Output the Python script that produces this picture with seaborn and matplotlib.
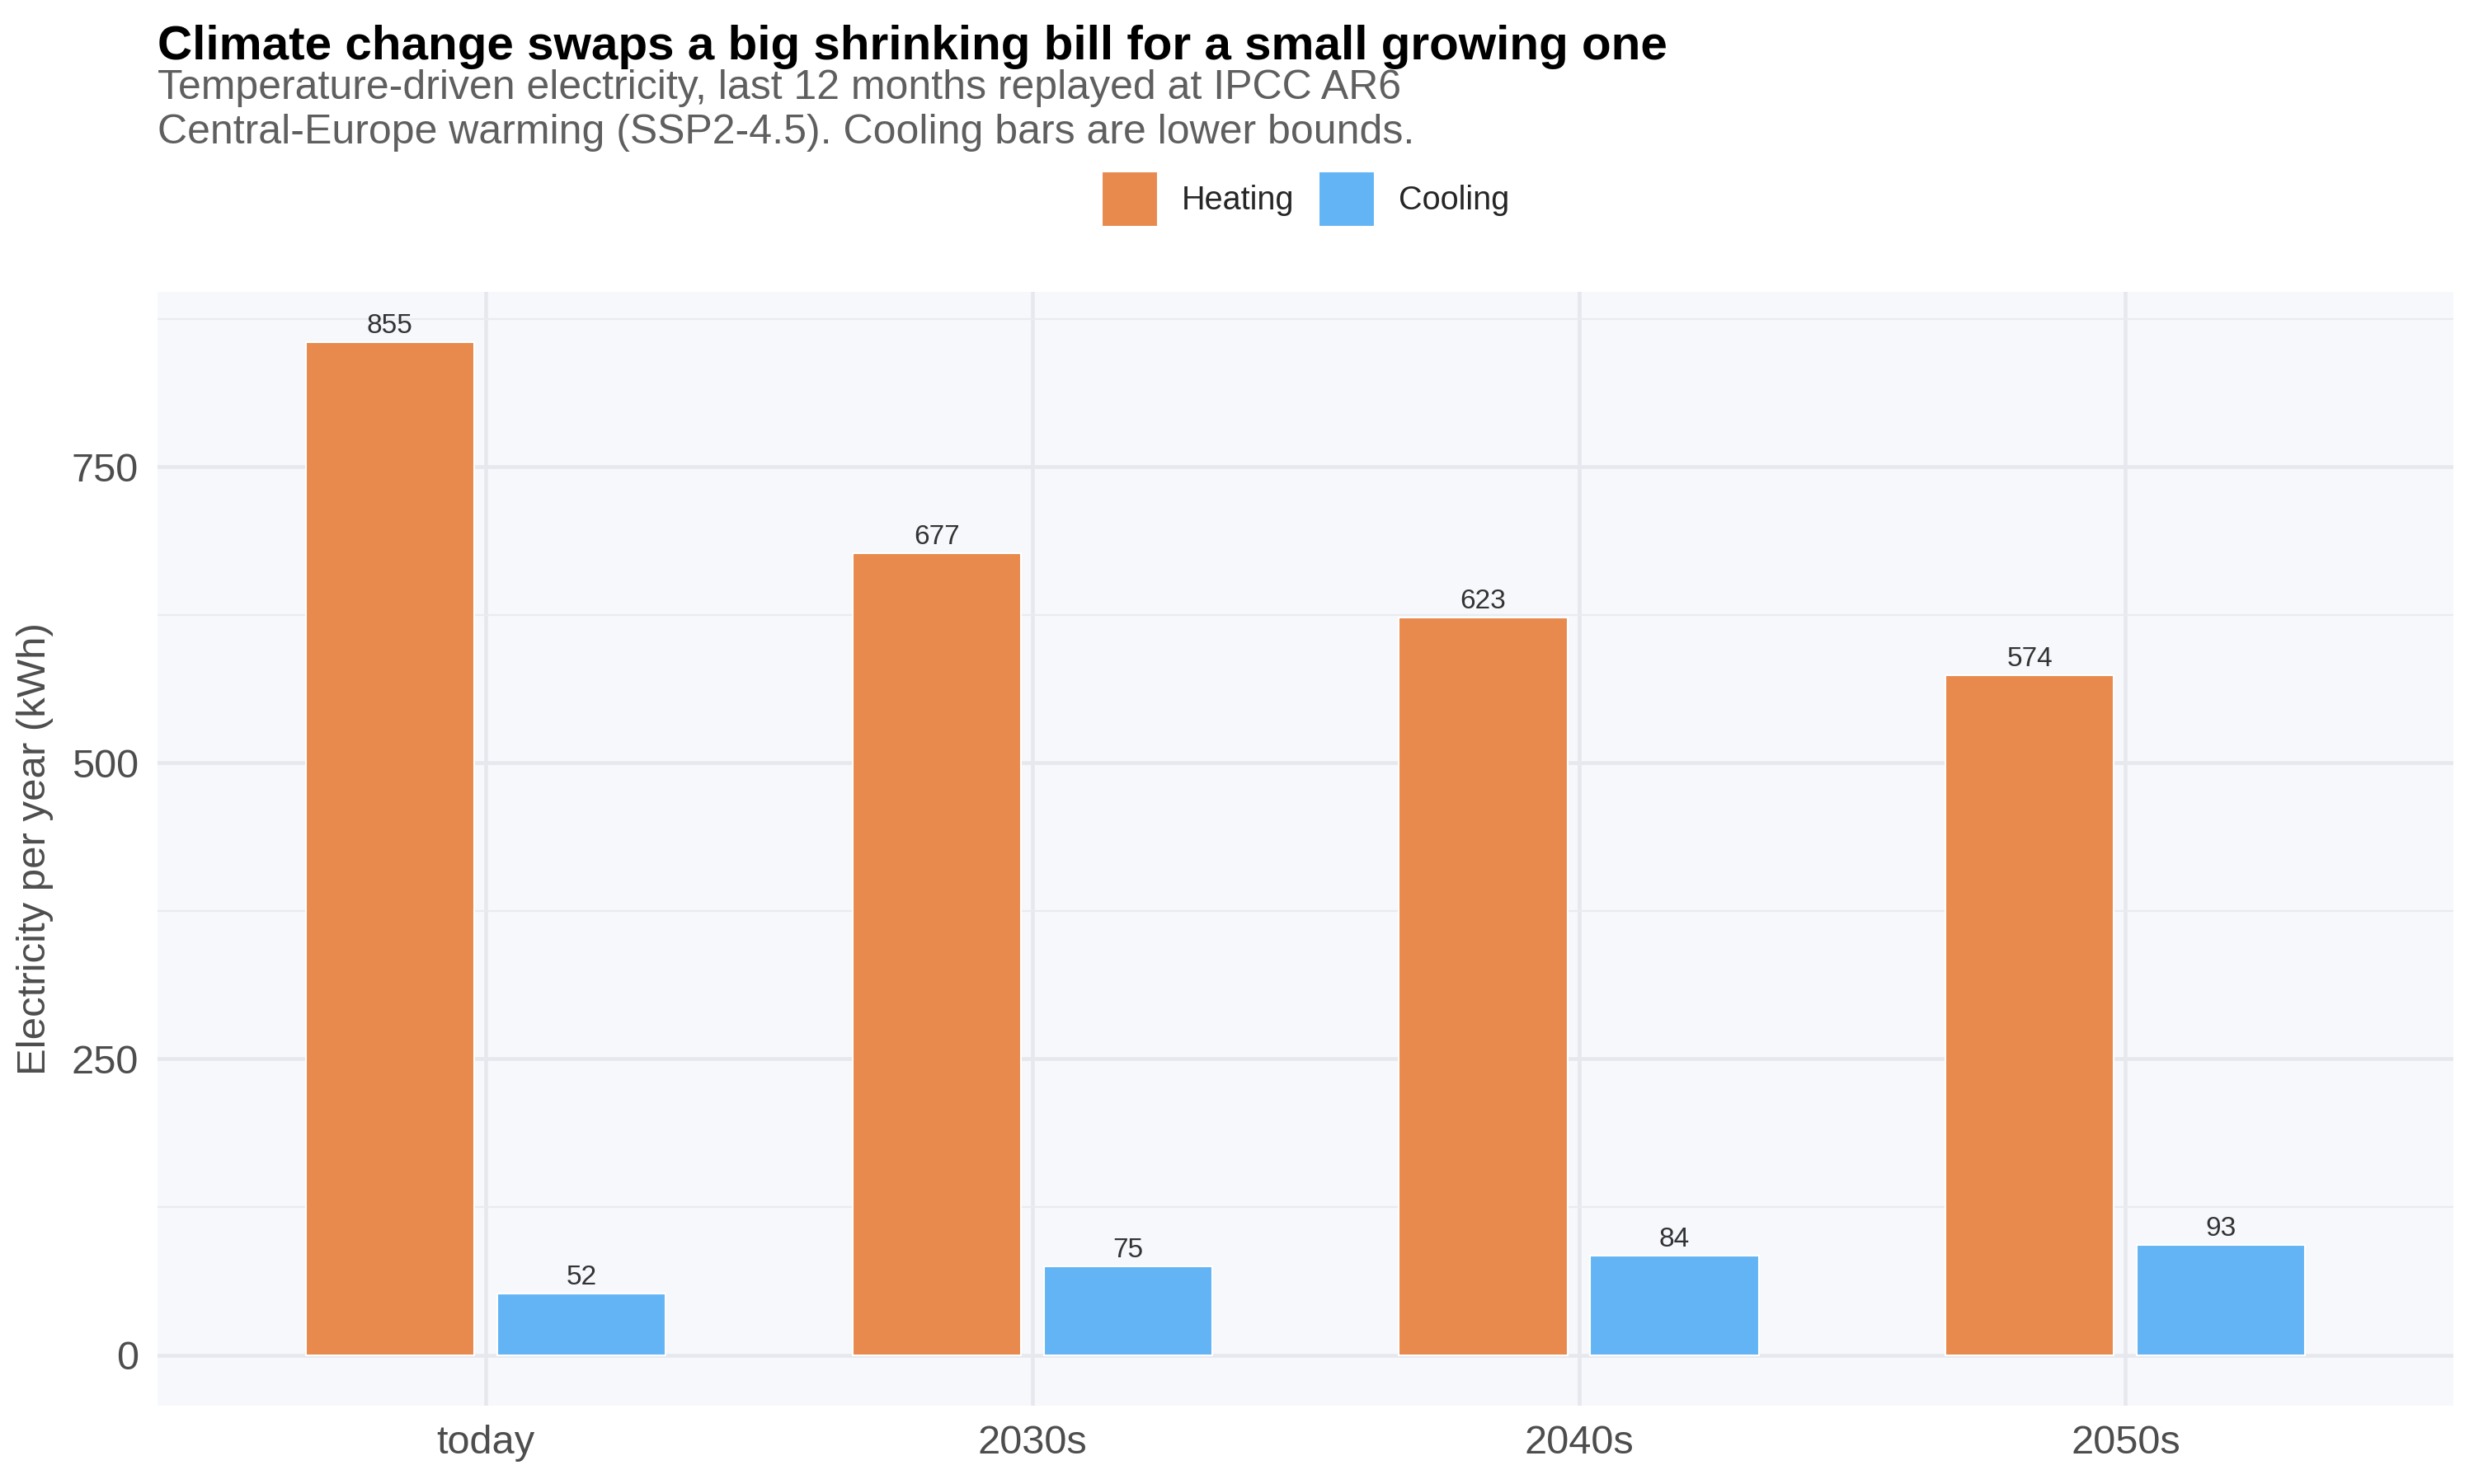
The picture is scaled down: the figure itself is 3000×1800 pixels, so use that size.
import pandas as pd
import numpy as np
import matplotlib
matplotlib.use('Agg')
import matplotlib.pyplot as plt
from matplotlib.ticker import MultipleLocator
import seaborn as sns

# values
periods = ['today', '2030s', '2040s', '2050s']
heating = [855, 677, 623, 574]
cooling = [52, 75, 84, 93]
kinds = ['Heating', 'Cooling']
colors = {'Heating': '#E8894D', 'Cooling': '#63B4F5'}

df = pd.DataFrame({
    'period': periods * 2,
    'kind': ['Heating'] * len(periods) + ['Cooling'] * len(periods),
    'kwh': heating + cooling,
})

sns.set_theme(style='white')
plt.rcParams['font.family'] = ['Liberation Sans', 'DejaVu Sans']

fig = plt.figure(figsize=(10, 6), dpi=300)
ax = fig.add_axes([0.0637, 0.0528, 0.928, 0.7505])
ax.set_facecolor('#F7F8FC')

sns.barplot(data=df, x='period', y='kwh', hue='kind', hue_order=kinds,
            order=periods, palette=colors, saturation=1, width=0.7, gap=0.12,
            edgecolor='white', linewidth=0.5, ax=ax, zorder=3)

# value labels on top of the bars
for cont in ax.containers:
    ax.bar_label(cont, fmt='%d', padding=1, fontsize=8, color='#333333')

ax.set_xlim(-0.6, len(periods) - 0.4)
ax.set_ylim(-42.75, 897.75)
ax.yaxis.set_major_locator(MultipleLocator(250))
ax.yaxis.set_minor_locator(MultipleLocator(125))
ax.grid(which='major', axis='both', color='#E6E8EE', linewidth=1.1, zorder=0)
ax.grid(which='minor', axis='y', color='#E9EBF0', linewidth=0.55, zorder=0)
ax.set_axisbelow(True)
for s in ax.spines.values():
    s.set_visible(False)
ax.tick_params(axis='both', which='both', length=0, labelsize=11.7,
               labelcolor='#4D4D4D', pad=5.5)

ax.set_xlabel('')
ax.set_ylabel('Electricity per year (kWh)', fontsize=11.8, color='#4D4D4D')
ax.yaxis.label.set_va('center')
ax.yaxis.set_label_coords(-0.0535, 0.5)

sns.move_legend(ax, 'center', bbox_to_anchor=(0.5, 1.0833), ncol=2,
                frameon=False, title=None, fontsize=9.5,
                handlelength=1.72, handleheight=2.2,
                handletextpad=0.72, columnspacing=0.76)

fig.text(0.0637, 0.96, 'Climate change swaps a big shrinking bill for a small growing one',
         fontsize=14, fontweight='bold', color='black', va='baseline', ha='left')
fig.text(0.0637, 0.9333, 'Temperature-driven electricity, last 12 months replayed at IPCC AR6',
         fontsize=12, color='#5F5F5F', va='baseline', ha='left')
fig.text(0.0637, 0.9033, 'Central-Europe warming (SSP2-4.5). Cooling bars are lower bounds.',
         fontsize=12, color='#5F5F5F', va='baseline', ha='left')

fig.savefig('out.png', dpi=300, facecolor='white')
